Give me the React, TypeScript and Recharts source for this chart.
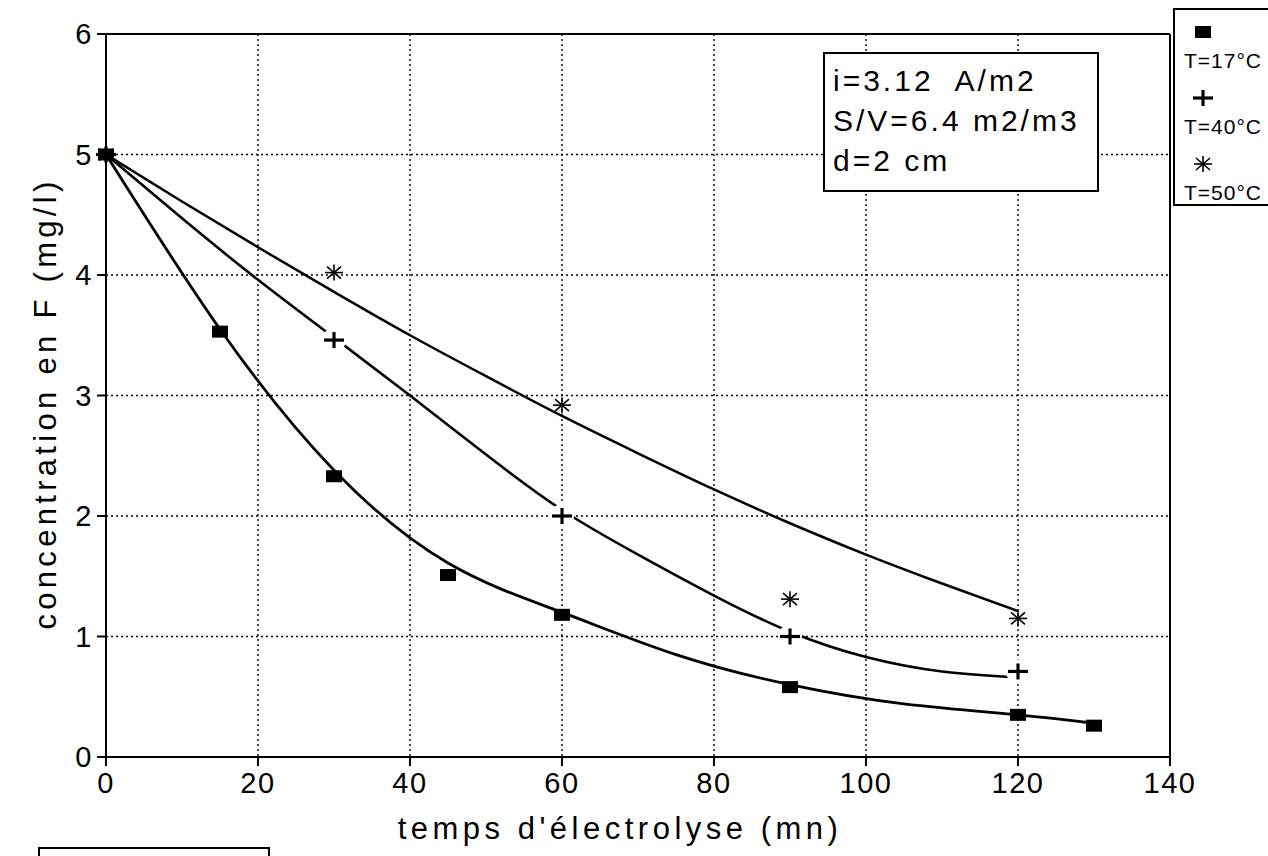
import React from 'react';
import { ComposedChart, Line, Scatter, XAxis, YAxis, CartesianGrid, ReferenceLine } from 'recharts';

// measured points (mn, mg/l)
const times17 = [0, 15, 30, 45, 60, 90, 120, 130];
const conc17 = [5, 3.53, 2.33, 1.51, 1.18, 0.58, 0.35, 0.26];
const times40 = [0, 30, 60, 90, 120];
const conc40 = [5, 3.46, 2.0, 1.0, 0.71];
const times50 = [0, 30, 60, 90, 120];
const conc50 = [5, 4.02, 2.92, 1.31, 1.15];

// fitted curves
const fitTimes17 = [0, 15, 30, 45, 60, 75, 90, 105, 120, 130];
const fit17 = [5, 3.55, 2.38, 1.61, 1.2, 0.85, 0.6, 0.44, 0.35, 0.28];
const fitTimes40 = [0, 10, 20, 30, 40, 50, 60, 70, 80, 90, 100, 110, 120];
const fit40 = [5, 4.47, 3.96, 3.48, 3.0, 2.51, 2.05, 1.68, 1.34, 1.04, 0.83, 0.71, 0.66];
const fitTimes50 = [0, 10, 20, 30, 40, 50, 60, 70, 80, 90, 100, 110, 120];
const fit50 = [5, 4.61, 4.23, 3.86, 3.5, 3.16, 2.83, 2.52, 2.22, 1.94, 1.68, 1.44, 1.21];

const xTicks = [0, 20, 40, 60, 80, 100, 120, 140];
const yTicks = [0, 1, 2, 3, 4, 5, 6];

const annotation = ['i=3.12  A/m2', 'S/V=6.4 m2/m3', 'd=2 cm'];
const legendLabels = ['T=17°C', 'T=40°C', 'T=50°C'];

const toPoints = (ts: number[], cs: number[]) => ts.map((t, i) => ({ t, c: cs[i] }));

const FONT = '"Liberation Sans", Arial, sans-serif';

const SquareMark = ({ cx, cy }: any) => (
  <rect x={cx - 8} y={cy - 6} width={16} height={12} fill="#000" />
);
const PlusMark = ({ cx, cy, gap }: any) => (
  <g>
    {gap && <circle cx={cx} cy={cy} r={12} fill="#fff" />}
    <g stroke="#000" strokeWidth={3.2}>
      <line x1={cx - 10} y1={cy} x2={cx + 10} y2={cy} />
      <line x1={cx} y1={cy - 8} x2={cx} y2={cy + 8} />
    </g>
  </g>
);
const StarMark = ({ cx, cy }: any) => (
  <g stroke="#000" strokeWidth={1.6}>
    <line x1={cx - 9} y1={cy} x2={cx + 9} y2={cy} />
    <line x1={cx} y1={cy - 8} x2={cx} y2={cy + 8} />
    <line x1={cx - 7} y1={cy - 6} x2={cx + 7} y2={cy + 6} />
    <line x1={cx - 7} y1={cy + 6} x2={cx + 7} y2={cy - 6} />
  </g>
);

const legendMarks = [SquareMark, PlusMark, StarMark];

const tickStyle = { fill: '#000', fontSize: 29, fontFamily: FONT, letterSpacing: 1.5 };

const App = () => {
  return (
    <div style={{ position: 'absolute', left: 0, top: 0, width: 1268, height: 856, background: '#fff', fontFamily: FONT }}>
      <ComposedChart width={1268} height={856} margin={{ top: 34, right: 98, bottom: 0, left: 0 }}>
        <CartesianGrid stroke="#000" strokeWidth={1.4} strokeDasharray="2 3" />
        <XAxis
          type="number"
          dataKey="t"
          domain={[0, 140]}
          ticks={xTicks}
          height={99}
          stroke="#000"
          strokeWidth={2}
          tickSize={9}
          tickMargin={6}
          tick={tickStyle}
          label={(props: any) => {
            const vb = props.viewBox;
            return (
              <text x={vb.x + vb.width / 2 - 18} y={vb.y + 82} textAnchor="middle" fontSize={31} fontFamily={FONT} letterSpacing={4.5} fill="#000">
                temps d'électrolyse (mn)
              </text>
            );
          }}
        />
        <YAxis
          type="number"
          dataKey="c"
          domain={[0, 6]}
          ticks={yTicks}
          width={106}
          stroke="#000"
          strokeWidth={2}
          tickSize={9}
          tickMargin={4}
          tick={tickStyle}
          label={(props: any) => {
            const vb = props.viewBox;
            const cx = 45;
            const cy = vb.y + vb.height / 2 + 8;
            return (
              <text x={cx} y={cy} transform={`rotate(-90 ${cx} ${cy})`} textAnchor="middle" dominantBaseline="central" fontSize={31} fontFamily={FONT} letterSpacing={4.3} fill="#000">
                concentration en F (mg/l)
              </text>
            );
          }}
        />
        <ReferenceLine y={6} stroke="#000" strokeWidth={2} />
        <ReferenceLine x={140} stroke="#000" strokeWidth={2} />

        <Line data={toPoints(fitTimes50, fit50)} dataKey="c" type="natural" stroke="#000" strokeWidth={2.5} dot={false} activeDot={false} isAnimationActive={false} />
        <Line data={toPoints(fitTimes40, fit40)} dataKey="c" type="natural" stroke="#000" strokeWidth={2.6} dot={false} activeDot={false} isAnimationActive={false} />
        <Line data={toPoints(fitTimes17, fit17)} dataKey="c" type="natural" stroke="#000" strokeWidth={2.8} dot={false} activeDot={false} isAnimationActive={false} />

        <Scatter data={toPoints(times17, conc17)} dataKey="c" shape={(p: any) => <SquareMark cx={p.cx} cy={p.cy} />} isAnimationActive={false} />
        <Scatter data={toPoints(times40, conc40)} dataKey="c" shape={(p: any) => <PlusMark cx={p.cx} cy={p.cy} gap={p.payload.t > 0} />} isAnimationActive={false} />
        <Scatter data={toPoints(times50, conc50)} dataKey="c" shape={(p: any) => <StarMark cx={p.cx} cy={p.cy} />} isAnimationActive={false} />
      </ComposedChart>

      {/* parameters box */}
      <div style={{ position: 'absolute', left: 823, top: 52, width: 272, height: 136, border: '2px solid #000', background: '#fff' }} />
      {annotation.map((line, i) => (
        <div key={line} style={{ position: 'absolute', left: 833, top: 66 + i * 40, fontSize: 30, lineHeight: '30px', letterSpacing: 3, whiteSpace: 'pre', color: '#000' }}>
          {line}
        </div>
      ))}

      {/* legend */}
      <div style={{ position: 'absolute', left: 1173, top: 8, width: 110, height: 194, borderLeft: '2px solid #000', borderTop: '2px solid #000', borderBottom: '2px solid #000', background: '#fff' }} />
      {legendLabels.map((label, i) => {
        const Mark = legendMarks[i];
        return (
          <React.Fragment key={label}>
            <svg style={{ position: 'absolute', left: 1190, top: 20 + i * 66 }} width={26} height={24}>
              <Mark cx={13} cy={12} />
            </svg>
            <div style={{ position: 'absolute', left: 1184, top: 50 + i * 66, fontSize: 21, lineHeight: '22px', letterSpacing: 1, color: '#000' }}>
              {label}
            </div>
          </React.Fragment>
        );
      })}

      {/* partial box at lower left */}
      <div style={{ position: 'absolute', left: 38, top: 847, width: 228, height: 20, borderLeft: '2px solid #000', borderTop: '2px solid #000', borderRight: '2px solid #000' }} />
    </div>
  );
};

export default App;
